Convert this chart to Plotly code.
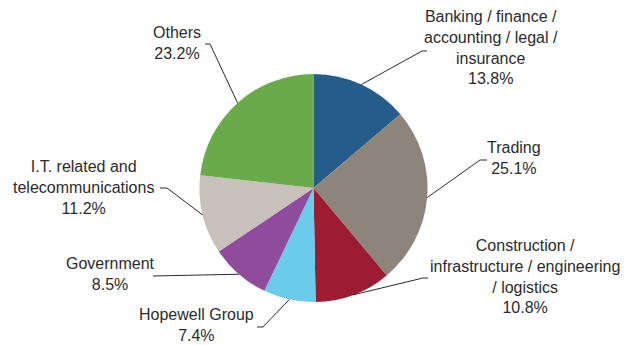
import math
import plotly.graph_objects as go

# Share by sector (%), clockwise from 12 o'clock
sectors = [
    "Banking / finance /<br>accounting / legal /<br>insurance",
    "Trading",
    "Construction /<br>infrastructure / engineering<br>/ logistics",
    "Hopewell Group",
    "Government",
    "I.T. related and<br>telecommunications",
    "Others",
]
shares = [13.8, 25.1, 10.8, 7.4, 8.5, 11.2, 23.2]
colors = ["#245C8A", "#8D857C", "#9C1C31", "#6ACBEA", "#8F4B9C", "#C8C0BB", "#6AAA4B"]

W, H = 629, 345
CX, CY, R = 313.5, 188.0, 114.0  # pie centre / radius in pixels

# label block centre and elbow of the leader line (pixels)
label_pos = [(491, 47), (514, 158), (525, 276), (196, 325), (110, 274), (83, 187), (177, 43)]
elbows = [((422, 51), (427, 51)), ((480, 160), (487, 160)), ((423, 278), (428, 278)),
          ((263, 327), (257, 327)), ((153, 276), (153, 276)), ((167, 188), (160, 188)),
          ((210, 44), (205, 44))]


def px(x):
    return x / W


def py(y):
    return 1 - y / H


fig = go.Figure(go.Pie(
    labels=[s.replace("<br>", " ") for s in sectors],
    values=shares,
    sort=False,
    direction="clockwise",
    rotation=0,
    marker=dict(colors=colors, line=dict(width=0)),
    textinfo="none",
    hoverinfo="label+percent",
    showlegend=False,
    domain=dict(x=[px(CX - R), px(CX + R)], y=[py(CY + R), py(CY - R)]),
))

total = sum(shares)
shapes = []
annotations = []
cum = 0.0
for name, v, (lx, ly), (e1, e2) in zip(sectors, shares, label_pos, elbows):
    mid = (cum + v / 2) / total * 2 * math.pi
    cum += v
    sx = CX + R * math.sin(mid)
    sy = CY - R * math.cos(mid)
    path = f"M {px(sx)},{py(sy)} L {px(e1[0])},{py(e1[1])} L {px(e2[0])},{py(e2[1])}"
    shapes.append(dict(type="path", xref="paper", yref="paper", path=path,
                       line=dict(color="#2a2a2a", width=1)))
    annotations.append(dict(
        x=px(lx), y=py(ly), xref="paper", yref="paper",
        text=f"{name}<br>{v:.1f}%", showarrow=False, align="center",
        xanchor="center", yanchor="middle",
        font=dict(family="Liberation Sans, Arial, sans-serif", size=16, color="#2b2b2b"),
    ))

fig.update_layout(
    width=W, height=H,
    margin=dict(l=0, r=0, t=0, b=0),
    paper_bgcolor="white",
    plot_bgcolor="white",
    shapes=shapes,
    annotations=annotations,
)

fig.write_html("out.html")
